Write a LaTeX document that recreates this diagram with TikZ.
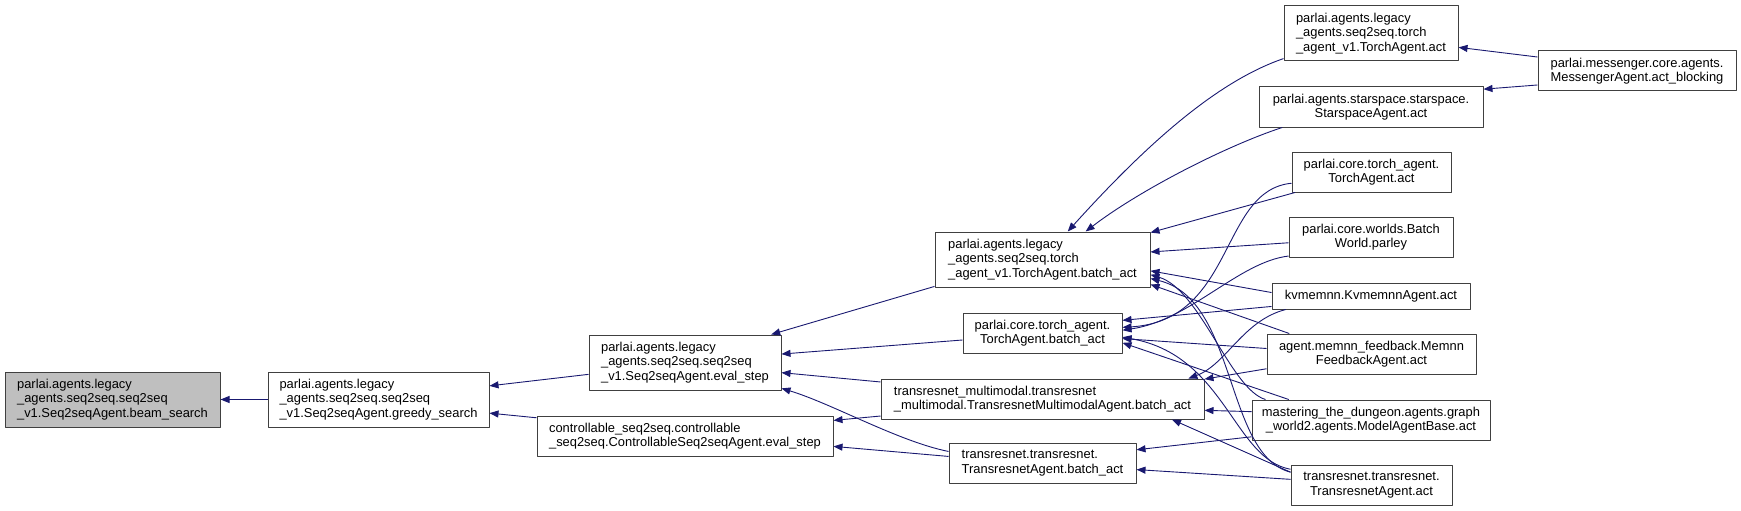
\documentclass[tikz,border=0pt]{standalone}
\usepackage{fontspec}
\setsansfont{Liberation Sans}
\usepackage{tikz}
\usetikzlibrary{arrows.meta}
\definecolor{cgEdge}{HTML}{191970}
\definecolor{cgLine}{HTML}{404040}
\definecolor{cgRoot}{HTML}{BFBFBF}
\tikzset{
  cg diagram/.style={font=\sffamily\fontsize{12.9}{14.4}\selectfont, text=black,
    line join=round},
  cg box/.style={draw=cgLine, fill=white, line width=1pt, inner sep=0pt},
  cg root/.style={cg box, fill=cgRoot},
  cg edge/.style={-{Triangle[length=9pt,width=7pt]}, draw=cgEdge, line width=0.9pt}
}

\begin{document}
\begin{tikzpicture}[cg diagram,x=10pt,y=-10pt,
 cg left/.style={cg box,align=left},
 cg mid/.style={cg box,align=center},
 cg one/.style={minimum height=26pt},
 cg two/.style={minimum height=40pt},
 cg three/.style={minimum height=55pt}]
\useasboundingbox (0,0) rectangle (174.1,51.1);
\node[cg root,align=left,cg three,minimum width=215pt] (beam) at (11.25,39.95) {parlai.agents.legacy\\\_agents.seq2seq.seq2seq\\\_v1.Seq2seqAgent.beam\_search};
\node[cg left,cg three,minimum width=221pt] (greedy) at (37.85,39.95) {parlai.agents.legacy\\\_agents.seq2seq.seq2seq\\\_v1.Seq2seqAgent.greedy\_search};
\node[cg left,cg three,minimum width=192pt] (eval) at (68.5,36.25) {parlai.agents.legacy\\\_agents.seq2seq.seq2seq\\\_v1.Seq2seqAgent.eval\_step};
\node[cg left,cg two,minimum width=296pt] (ctrl) at (68.5,43.6) {controllable\_seq2seq.controllable\\\_seq2seq.ControllableSeq2seqAgent.eval\_step};
\node[cg left,cg three,minimum width=215pt] (lbatch) at (104.25,25.95) {parlai.agents.legacy\\\_agents.seq2seq.torch\\\_agent\_v1.TorchAgent.batch\_act};
\node[cg mid,cg two,minimum width=159pt] (cbatch) at (104.25,33.3) {parlai.core.torch\_agent.\\TorchAgent.batch\_act};
\node[cg left,cg two,minimum width=323pt] (mmbatch) at (104.25,39.9) {transresnet\_multimodal.transresnet\\\_multimodal.TransresnetMultimodalAgent.batch\_act};
\node[cg left,cg two,minimum width=187pt] (tbatch) at (104.25,46.3) {transresnet.transresnet.\\TransresnetAgent.batch\_act};
\node[cg left,cg three,minimum width=174pt] (lact) at (137.1,3.35) {parlai.agents.legacy\\\_agents.seq2seq.torch\\\_agent\_v1.TorchAgent.act};
\node[cg mid,cg two,minimum width=224pt] (star) at (137.1,10.7) {parlai.agents.starspace.starspace.\\StarspaceAgent.act};
\node[cg mid,cg two,minimum width=159pt] (cact) at (137.15,17.2) {parlai.core.torch\_agent.\\TorchAgent.act};
\node[cg mid,cg two,minimum width=164pt] (parley) at (137.1,23.7) {parlai.core.worlds.Batch\\World.parley};
\node[cg mid,cg one,minimum width=198pt] (kv) at (137.1,29.6) {kvmemnn.KvmemnnAgent.act};
\node[cg mid,cg two,minimum width=209pt] (memnn) at (137.15,35.4) {agent.memnn\_feedback.Memnn\\FeedbackAgent.act};
\node[cg mid,cg two,minimum width=238pt] (dungeon) at (137.1,42.0) {mastering\_the\_dungeon.agents.graph\\\_world2.agents.ModelAgentBase.act};
\node[cg mid,cg two,minimum width=161pt] (tact) at (137.15,48.5) {transresnet.transresnet.\\TransresnetAgent.act};
\node[cg left,cg two,minimum width=198pt] (msg) at (163.7,7.1) {parlai.messenger.core.agents.\\MessengerAgent.act\_blocking};
% left half
\draw[cg edge] (greedy.west) -- (beam.east);
\draw[cg edge] (eval.-173) -- (greedy.7.5);
\draw[cg edge] (ctrl.173) -- (greedy.-7);
\draw[cg edge] (lbatch.-166) -- (eval.18);
\draw[cg edge] (cbatch.185) -- (eval.5);
\draw[cg edge] (mmbatch.174) -- (eval.-6);
\draw[cg edge] (tbatch.173) .. controls +(-5,-1) and +(5,1.5) .. (eval.-15);
\draw[cg edge] (mmbatch.-174) -- (ctrl.6);
\draw[cg edge] (tbatch.176) -- (ctrl.-4.6);
% into the legacy batch_act
\draw[cg edge] (lact.-164) .. controls +(-6.4,2.2) and +(8.3,-9.2) .. (lbatch.48);
\draw[cg edge] (star.-167) .. controls +(-5.5,1.8) and +(5.5,-4.2) .. (lbatch.33);
\draw[cg edge] (cact.-165) -- (lbatch.14);
\draw[cg edge] (parley.184) -- (lbatch.4);
\draw[cg edge] (kv.178) -- (lbatch.-6.6);
\draw[cg edge] (memnn.166) -- (lbatch.-13);
\draw[cg edge] (dungeon.169) .. controls +(-3.5,-1) and +(5,1.5) .. (lbatch.-8);
\draw[cg edge] (tact.171) .. controls +(-6.6,-1.7) and +(8.7,2.1) .. (lbatch.-10);
% into the core batch_act
\draw[cg edge] (cact.-172) .. controls +(-7.2,0.7) and +(11.3,-0.7) .. (cbatch.4);
\draw[cg edge] (parley.-167) .. controls +(-5,0.6) and +(6.8,-1) .. (cbatch.2);
\draw[cg edge] (kv.-174) -- (cbatch.9);
\draw[cg edge] (memnn.177) -- (cbatch.-4);
\draw[cg edge] (dungeon.166) -- (cbatch.-7);
\draw[cg edge] (tact.169) .. controls +(-5.7,-1) and +(10.3,1.8) .. (cbatch.-3);
% into the multimodal and transresnet batch_act
\draw[cg edge] (kv.-171.6) .. controls +(-4.3,1.1) and +(3.8,-1.4) .. (mmbatch.8.5);
\draw[cg edge] (memnn.-172) -- (mmbatch.7.4);
\draw[cg edge] (dungeon.176) -- (mmbatch.-4);
\draw[cg edge] (tact.171) -- (mmbatch.-9.4);
\draw[cg edge] (dungeon.-172) -- (tbatch.8);
\draw[cg edge] (tact.176) -- (tbatch.-4);
% messenger
\draw[cg edge] (msg.172) -- (lact.-9);
\draw[cg edge] (msg.-172.5) -- (star.9);
\end{tikzpicture}
\end{document}
